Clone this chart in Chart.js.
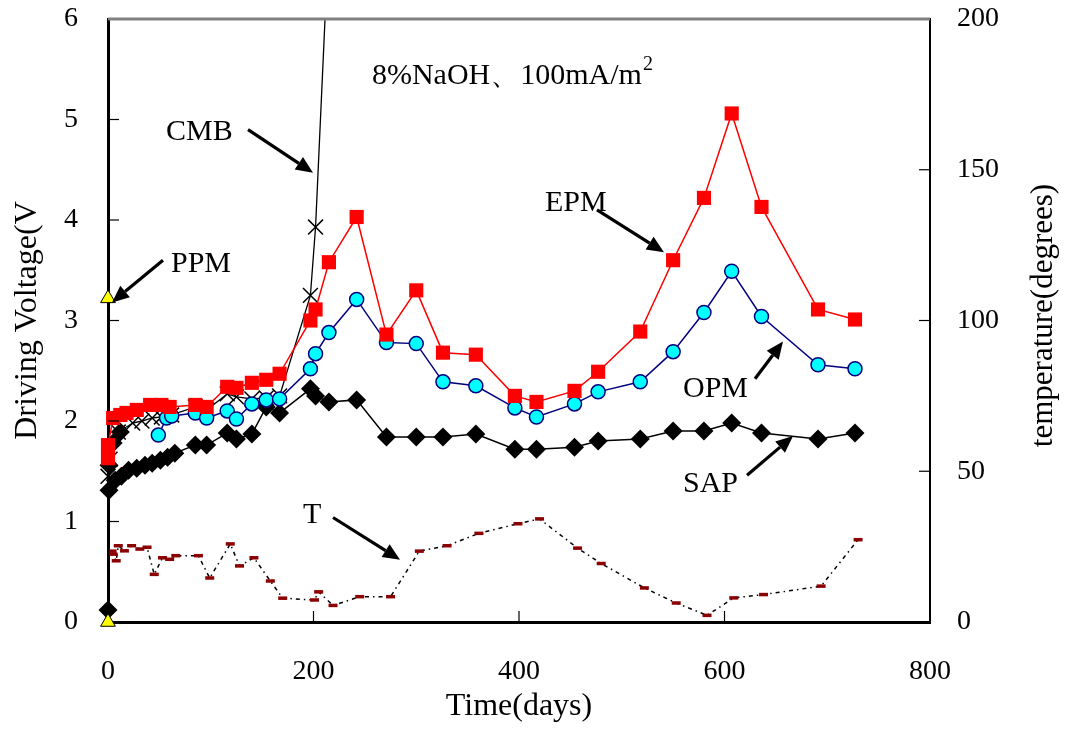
<!DOCTYPE html>
<html><head><meta charset="utf-8">
<script src="https://cdn.jsdelivr.net/npm/chart.js@4.4.0/dist/chart.umd.min.js"></script>
<style>html,body{margin:0;padding:0;background:#fff}#wrap{width:1065px;height:729px}</style>
</head><body><div id="wrap"><canvas id="c" width="1065" height="729"></canvas></div>
<script>
// ---- data ----
const epmDays  = [0,0,5,12,18,28,41,52,60,85,96,116,125,140,154,167,197,202,215,242,271,300,326,358,396,417,454,477,518,550,580,607,636,691,727];
const epmVolts = [1.63,1.76,2.03,2.06,2.08,2.11,2.16,2.16,2.14,2.16,2.14,2.34,2.33,2.38,2.41,2.47,3.00,3.11,3.58,4.03,2.86,3.30,2.68,2.66,2.25,2.19,2.30,2.49,2.89,3.60,4.22,5.06,4.13,3.11,3.01];

const opmDays  = [49,57,62,85,96,116,125,140,154,167,197,202,215,242,271,300,326,358,396,417,454,477,518,550,580,607,636,691,727];
const opmVolts = [1.86,2.03,2.05,2.08,2.03,2.10,2.02,2.17,2.21,2.22,2.52,2.67,2.88,3.21,2.78,2.77,2.39,2.35,2.13,2.04,2.17,2.29,2.39,2.69,3.08,3.49,3.04,2.56,2.52];

const sapDays  = [0,1,7,13,20,28,36,43,51,58,65,85,96,116,125,140,154,167,197,202,215,242,271,300,326,358,396,417,454,477,518,550,580,607,636,691,727];
const sapVolts = [0.12,1.31,1.41,1.45,1.51,1.53,1.56,1.58,1.61,1.64,1.68,1.76,1.76,1.88,1.82,1.87,2.14,2.08,2.32,2.25,2.19,2.21,1.84,1.84,1.84,1.87,1.72,1.72,1.74,1.80,1.82,1.90,1.90,1.98,1.88,1.82,1.88];
const sapEarlyDays  = [1,5,12];
const sapEarlyVolts = [1.56,1.78,1.89];

const cmbDays  = [0,2,10,24,33,43,52,62,85,96,116,125,140,154,167,197,202,215];
const cmbVolts = [1.45,1.62,1.89,1.98,2.00,2.03,2.04,2.06,2.14,2.11,2.27,2.24,2.22,2.23,2.25,3.25,3.93,6.85];

const ppmDays  = [0,0];
const ppmVolts = [3.22,0];

const tempDays = [4,5,8,10,16,23,31,38,45,53,60,66,88,99,119,128,142,158,170,201,205,219,245,275,303,330,361,399,420,457,480,522,553,583,609,638,694,730];
const tempVals = [23.5,22.5,20.3,25.3,23.6,25.3,24.2,24.8,15.8,21.3,20.8,22.0,22.0,14.6,25.9,18.6,21.3,13.6,7.9,7.3,10.0,5.5,8.4,8.4,23.5,25.3,29.4,32.6,34.2,24.5,19.4,11.3,6.3,2.2,8.0,9.1,11.9,27.3];

const xTicks = [0,200,400,600,800];
const yTicks = [0,1,2,3,4,5,6];
const y1Ticks = [0,50,100,150,200];

// annotation labels in data units (day, volt)
const labels = [
  {text:'CMB', x:56.4, y:4.80, ax1:[136.3,4.90], ax2:[199.5,4.47]},
  {text:'EPM', x:425.3, y:4.09, ax1:[475.9,4.10], ax2:[541.1,3.68]},
  {text:'PPM', x:61.3, y:3.48, ax1:[53.5,3.60], ax2:[3.9,3.18]},
  {text:'OPM', x:559.6, y:2.24, ax1:[629.7,2.42], ax2:[656.9,2.79]},
  {text:'SAP', x:559.6, y:1.29, ax1:[621.9,1.46], ax2:[666.7,1.85]},
  {text:'T',   x:189.8, y:0.99, ax1:[219.0,1.04], ax2:[284.2,0.62]}
];
const conditionText = '8%NaOH\u3001100mA/m';
const conditionSup = '2';
const conditionPos = [256.9, 5.35];

const pts = (xs, ys) => xs.map((d,i)=>({x:d, y:ys[i]}));
const SERIF = '"Liberation Serif","Times New Roman",serif';

const decor = {
  id:'decor',
  afterDatasetsDraw(chart){
    const {ctx, chartArea:a, scales:{x,y,y1}} = chart;
    ctx.save();
    ctx.strokeStyle = '#808080'; ctx.lineWidth = 3;
    ctx.beginPath(); ctx.moveTo(a.left, a.top); ctx.lineTo(a.right, a.top); ctx.stroke();
    ctx.strokeStyle = '#000'; ctx.lineWidth = 1.2;
    yTicks.slice(1,-1).forEach(v=>{const p=y.getPixelForValue(v); ctx.beginPath(); ctx.moveTo(a.left,p); ctx.lineTo(a.left+11,p); ctx.stroke();});
    xTicks.slice(1,-1).forEach(v=>{const p=x.getPixelForValue(v); ctx.beginPath(); ctx.moveTo(p,a.bottom); ctx.lineTo(p,a.bottom-11); ctx.stroke();});
    y1Ticks.slice(1,-1).forEach(v=>{const p=y1.getPixelForValue(v); ctx.beginPath(); ctx.moveTo(a.right,p); ctx.lineTo(a.right-11,p); ctx.stroke();});
    ctx.fillStyle = '#000';
    ctx.font = '31px ' + SERIF;
    ctx.textAlign = 'center'; ctx.textBaseline = 'middle';
    ctx.save(); ctx.translate(1044, (a.top+a.bottom)/2 - 5); ctx.rotate(-Math.PI/2);
    ctx.fillText('temperature(degrees)', 0, 0); ctx.restore();
    ctx.font = '30px ' + SERIF;
    ctx.textAlign = 'left'; ctx.textBaseline = 'alphabetic';
    labels.forEach(l=>{
      ctx.fillText(l.text, x.getPixelForValue(l.x), y.getPixelForValue(l.y));
      const x1=x.getPixelForValue(l.ax1[0]), y1p=y.getPixelForValue(l.ax1[1]);
      const x2=x.getPixelForValue(l.ax2[0]), y2p=y.getPixelForValue(l.ax2[1]);
      const ang=Math.atan2(y2p-y1p,x2-x1), hl=17, hw=7.5;
      const bx=x2-hl*Math.cos(ang), by=y2p-hl*Math.sin(ang);
      ctx.lineWidth=3.2; ctx.beginPath(); ctx.moveTo(x1,y1p); ctx.lineTo(bx,by); ctx.stroke();
      ctx.beginPath(); ctx.moveTo(x2,y2p);
      ctx.lineTo(bx+hw*Math.sin(ang), by-hw*Math.cos(ang));
      ctx.lineTo(bx-hw*Math.sin(ang), by+hw*Math.cos(ang));
      ctx.closePath(); ctx.fill();
    });
    ctx.font = '30px ' + SERIF;
    const cx=x.getPixelForValue(conditionPos[0]), cy=y.getPixelForValue(conditionPos[1]);
    ctx.fillText(conditionText, cx, cy);
    const w = ctx.measureText(conditionText).width;
    ctx.font = '20px ' + SERIF;
    ctx.fillText(conditionSup, cx+w+1, cy-14);
    ctx.restore();
  }
};

const noPadV = s => { s.paddingTop = 0; s.paddingBottom = 0; };

new Chart(document.getElementById('c'), {
  type:'line',
  data:{datasets:[
    {label:'PPM', data:pts(ppmDays,ppmVolts), showLine:false, clip:false, pointStyle:'triangle', pointRadius:8.5,
     pointBackgroundColor:'#FFFF00', pointBorderColor:'#000', pointBorderWidth:1},
    {label:'EPM', data:pts(epmDays,epmVolts), clip:false, borderColor:'#FF0000', borderWidth:1.5, pointStyle:'rect', pointRadius:10,
     pointBackgroundColor:'#FF0000', pointBorderColor:'#FF0000', pointBorderWidth:0},
    {label:'OPM', data:pts(opmDays,opmVolts), clip:false, borderColor:'#000080', borderWidth:1.5, pointStyle:'circle', pointRadius:7,
     pointBackgroundColor:'#00FFFF', pointBorderColor:'#000080', pointBorderWidth:1.5},
    {label:'CMB', data:pts(cmbDays,cmbVolts), clip:{left:20,top:0,right:20,bottom:20}, borderColor:'#000', borderWidth:1.3, pointStyle:'crossRot', pointRadius:10.5,
     pointBorderColor:'#000', pointBorderWidth:1.5},
    {label:'SAP', data:pts(sapDays,sapVolts), clip:false, borderColor:'#000', borderWidth:1.5, pointStyle:'rectRot', pointRadius:9.5,
     pointBackgroundColor:'#000', pointBorderColor:'#000', pointBorderWidth:0},
    {label:'SAP0', data:pts(sapEarlyDays,sapEarlyVolts), clip:false, borderColor:'#000', borderWidth:1.5, pointStyle:'rectRot', pointRadius:9.5,
     pointBackgroundColor:'#000', pointBorderColor:'#000', pointBorderWidth:0},
    {label:'T', data:pts(tempDays,tempVals), yAxisID:'y1', borderColor:'#000', borderWidth:1.5, borderDash:[4,4,1.5,4],
     pointStyle:'line', pointRadius:4.5, pointBorderColor:'#8B0000', pointBorderWidth:3.5}
  ]},
  options:{
    responsive:false, animation:false, devicePixelRatio:1,
    layout:{padding:{top:19,left:0,right:0,bottom:0}},
    plugins:{legend:{display:false}, tooltip:{enabled:false}},
    elements:{line:{tension:0}},
    scales:{
      x:{type:'linear', min:0, max:800,
        afterBuildTicks:s=>{s.ticks=xTicks.map(v=>({value:v}));},
        afterFit:s=>{s.height=107; s.paddingLeft=0; s.paddingRight=0;},
        grid:{display:false, drawTicks:false},
        border:{display:true, color:'#000', width:3},
        ticks:{padding:33, color:'#000', font:{family:SERIF, size:28}},
        title:{display:true, text:'Time(days)', color:'#000', font:{family:SERIF, size:32}, padding:{top:0,bottom:3}}},
      y:{type:'linear', position:'left', min:0, max:6,
        afterBuildTicks:s=>{s.ticks=yTicks.map(v=>({value:v}));},
        afterFit:s=>{s.width=108; noPadV(s);},
        grid:{display:false, drawTicks:false},
        border:{display:true, color:'#000', width:3},
        ticks:{padding:30, color:'#000', font:{family:SERIF, size:28}},
        title:{display:true, text:'Driving Voltage(V', color:'#000', font:{family:SERIF, size:32}, padding:{top:8,bottom:0}}},
      y1:{type:'linear', position:'right', min:0, max:200,
        afterBuildTicks:s=>{s.ticks=y1Ticks.map(v=>({value:v}));},
        afterFit:s=>{s.width=135; noPadV(s);},
        grid:{display:false, drawTicks:false},
        border:{display:true, color:'#000', width:2},
        ticks:{padding:27, color:'#000', font:{family:SERIF, size:28}}}
    }
  },
  plugins:[decor]
});
</script></body></html>
